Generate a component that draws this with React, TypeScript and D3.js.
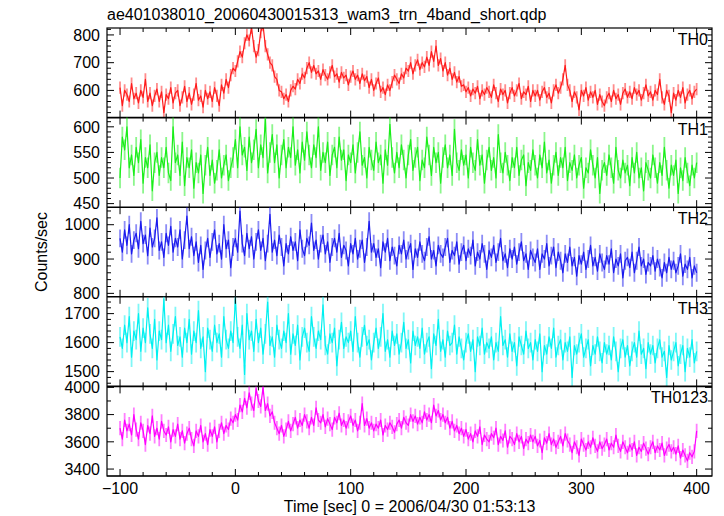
import React from "react";
import * as d3 from "d3";

const TITLE = "ae401038010_20060430015313_wam3_trn_4band_short.qdp";
const X_LABEL = "Time [sec] 0 = 2006/04/30 01:53:13";
const Y_LABEL = "Counts/sec";
const T_START = -100;
const BIN = 2;
const X_TICKS = [-100, 0, 100, 200, 300, 400];

const TH0 = [
  610, 545, 600, 585, 560, 625, 570, 590, 555, 600,
  575, 640, 560, 590, 545, 580, 605, 560, 595, 520,
  585, 570, 610, 555, 590, 600, 545, 575, 615, 560,
  590, 550, 585, 625, 565, 580, 540, 600, 570, 595,
  560, 610, 580, 545, 620, 590, 640, 610, 655, 680,
  670, 705, 740, 720, 770, 800, 780, 825, 760, 720,
  745, 810, 835, 760, 730, 700, 690, 650, 640, 600,
  595, 570, 585, 560, 600, 615, 605, 640, 625, 660,
  645, 680, 700, 665, 690, 660, 670, 640, 675, 655,
  640, 665, 690, 650, 660, 630, 665, 645, 655, 620,
  650, 670, 640, 655, 625, 660, 635, 650, 610, 640,
  600, 625, 645, 595, 610, 585, 620, 600, 630, 655,
  640, 625, 660, 645, 680, 670, 700, 660, 690, 710,
  675, 700, 685, 720, 690, 740, 705, 760, 690, 715,
  670, 700, 655, 680, 640, 665, 630, 650, 615, 620,
  595, 610, 580, 605, 590, 615, 570, 600, 585, 610,
  595, 575, 620, 590, 560, 605, 585, 600, 555, 590,
  610, 580, 600, 625, 570, 595, 585, 615, 560, 600,
  580, 600, 565, 595, 610, 575, 590, 555, 600, 620,
  590, 610, 640, 690, 620, 600, 560, 595, 575, 530,
  600, 580, 610, 565, 595, 575, 600, 550, 585, 560,
  545, 575, 590, 560, 600, 570, 585, 550, 590, 605,
  575, 595, 570, 610, 585, 600, 565, 590, 620, 580,
  595, 565, 600, 585, 640, 575, 550, 600, 580, 520,
  590, 565, 600, 575, 610, 555, 585, 600, 570, 595,
  605,
];

const TH1 = [
  500, 580, 555, 600, 520, 545, 505, 560, 530, 575,
  490, 540, 520, 565, 475, 530, 550, 505, 540, 520,
  560, 510, 495, 600, 530, 545, 505, 570, 485, 540,
  520, 555, 480, 530, 510, 545, 470, 525, 560, 505,
  535, 490, 515, 555, 500, 525, 545, 495, 520, 540,
  575, 520, 600, 545, 560, 515, 580, 530, 555, 595,
  520, 565, 540, 615, 510, 550, 585, 530, 565, 500,
  545, 575, 520, 560, 540, 600, 525, 555, 510, 570,
  535, 590, 545, 520, 565, 540, 600, 515, 550, 530,
  570, 505, 545, 560, 520, 580, 535, 555, 495, 545,
  530, 565, 510, 550, 590, 525, 540, 500, 560, 535,
  515, 570, 530, 545, 490, 555, 525, 605, 540, 510,
  550, 520, 565, 535, 500, 545, 575, 515, 540, 560,
  495, 535, 520, 580, 545, 505, 560, 530, 550, 490,
  540, 565, 520, 545, 505, 595, 530, 515, 555, 525,
  545, 500, 560, 530, 515, 575, 525, 545, 490, 535,
  560, 515, 540, 500, 585, 530, 510, 550, 525, 495,
  540, 520, 560, 505, 535, 545, 485, 530, 515, 555,
  525, 500, 545, 520, 570, 510, 535, 490, 525, 550,
  505, 540, 520, 560, 495, 530, 515, 545, 500, 525,
  540, 480, 520, 510, 555, 525, 500, 540, 470, 515,
  530, 505, 545, 520, 490, 560, 515, 500, 535, 510,
  525, 485, 540, 510, 550, 500, 520, 475, 530, 515,
  500, 545, 520, 490, 530, 505, 560, 515, 480, 525,
  505, 535, 470, 520, 495, 540, 510, 485, 525, 500,
  530,
];

const TH2 = [
  960, 920, 985, 940, 1000, 915, 955, 975, 930, 1010,
  945, 970, 910, 990, 935, 960, 1020, 925, 950, 905,
  975, 940, 995, 920, 960, 935, 985, 900, 955, 1025,
  930, 965, 910, 950, 890, 940, 870, 925, 960, 905,
  950, 985, 915, 945, 900, 1000, 930, 955, 875, 935,
  960, 920, 1040, 945, 910, 975, 930, 965, 900, 950,
  985, 925, 960, 895, 945, 1030, 920, 955, 910, 970,
  935, 880, 945, 915, 965, 925, 950, 895, 985, 930,
  910, 960, 940, 1005, 925, 955, 900, 945, 970, 915,
  950, 890, 935, 960, 920, 975, 905, 940, 925, 880,
  945, 915, 960, 900, 930, 955, 890, 935, 1010, 920,
  945, 905, 930, 875, 950, 920, 960, 895, 935, 910,
  880, 940, 915, 955, 900, 925, 945, 870, 930, 905,
  950, 915, 895, 935, 965, 900, 925, 880, 940, 915,
  905, 935, 960, 890, 925, 910, 950, 885, 920, 940,
  895, 930, 910, 955, 880, 920, 900, 945, 915, 870,
  925, 905, 940, 890, 920, 960, 895, 915, 875, 930,
  900, 935, 885, 920, 950, 895, 915, 870, 925, 905,
  890, 930, 870, 915, 900, 945, 880, 910, 935, 875,
  920, 895, 860, 915, 890, 935, 880, 905, 850, 910,
  885, 920, 870, 900, 940, 880, 905, 865, 915, 890,
  870, 910, 885, 930, 860, 900, 880, 915, 845, 895,
  905, 875, 920, 860, 895, 935, 880, 900, 855, 890,
  880, 910, 865, 900, 875, 845, 890, 860, 905, 870,
  895, 860, 880, 915, 850, 885, 870, 905, 845, 880,
  860,
];

const TH3 = [
  1620, 1580, 1660, 1600, 1690, 1550, 1640, 1610, 1700, 1570,
  1650, 1600, 1720, 1630, 1580, 1680, 1540, 1640, 1610, 1750,
  1600, 1660, 1570, 1630, 1690, 1590, 1620, 1550, 1650, 1600,
  1680, 1560, 1640, 1600, 1710, 1580, 1620, 1500, 1650, 1610,
  1570, 1660, 1600, 1630, 1550, 1690, 1610, 1580, 1640, 1600,
  1750, 1620, 1580, 1660, 1490, 1700, 1610, 1640, 1570, 1680,
  1600, 1650, 1560, 1630, 1740, 1590, 1620, 1550, 1660, 1610,
  1580, 1640, 1600, 1700, 1560, 1630, 1590, 1660, 1540, 1620,
  1650, 1600, 1570, 1690, 1620, 1580, 1640, 1610, 1730, 1590,
  1560, 1630, 1600, 1650, 1520, 1610, 1670, 1580, 1620, 1600,
  1640, 1570, 1690, 1600, 1550, 1620, 1660, 1590, 1610, 1540,
  1600, 1650, 1580, 1620, 1700, 1570, 1610, 1550, 1640, 1590,
  1630, 1560, 1600, 1670, 1580, 1610, 1530, 1640, 1590, 1620,
  1580, 1650, 1560, 1600, 1620, 1510, 1630, 1590, 1680, 1570,
  1610, 1550, 1640, 1590, 1600, 1660, 1560, 1620, 1580, 1540,
  1600, 1630, 1570, 1610, 1500, 1620, 1590, 1650, 1560, 1600,
  1580, 1620, 1540, 1600, 1570, 1690, 1590, 1610, 1550, 1630,
  1570, 1600, 1520, 1620, 1590, 1560, 1640, 1580, 1600, 1540,
  1610, 1570, 1630, 1500, 1590, 1560, 1620, 1580, 1650, 1550,
  1590, 1610, 1540, 1600, 1570, 1620, 1480, 1590, 1560, 1600,
  1630, 1550, 1580, 1610, 1520, 1590, 1560, 1620, 1570, 1530,
  1600, 1560, 1590, 1540, 1620, 1570, 1500, 1580, 1610, 1550,
  1590, 1520, 1570, 1600, 1550, 1640, 1560, 1580, 1510, 1600,
  1560, 1590, 1530, 1580, 1610, 1550, 1570, 1480, 1590, 1540,
  1570, 1600, 1520, 1560, 1590, 1500, 1580, 1550, 1610, 1530,
  1570,
];

const TH0123 = [
  3700, 3620, 3760, 3680, 3730, 3650, 3800, 3690, 3620, 3740,
  3680, 3580, 3720, 3660, 3790, 3640, 3700, 3620, 3750, 3680,
  3650, 3710, 3600, 3690, 3640, 3730, 3620, 3680, 3590, 3660,
  3700, 3620, 3570, 3680, 3640, 3720, 3600, 3660, 3580, 3690,
  3640, 3710, 3600, 3680, 3740, 3660, 3720, 3690, 3770, 3740,
  3800, 3760, 3870, 3820, 3920, 3850, 3960, 3880, 3830, 3990,
  3900, 3860, 4000, 3830, 3880, 3790, 3820, 3740, 3700, 3660,
  3720, 3640, 3690, 3750, 3680, 3730, 3780, 3700, 3760, 3720,
  3800, 3750, 3700, 3780, 3720, 3850, 3760, 3740, 3800, 3710,
  3770, 3730, 3690, 3780, 3740, 3810, 3720, 3760, 3700, 3750,
  3790, 3720, 3760, 3680, 3740, 3880, 3720, 3770, 3700, 3740,
  3680, 3730, 3700, 3760, 3650, 3720, 3690, 3740, 3710, 3670,
  3730, 3760, 3700, 3780, 3740, 3720, 3800, 3750, 3790, 3730,
  3780, 3740, 3820, 3760, 3800, 3740, 3870, 3790, 3830, 3760,
  3800, 3740, 3780, 3700, 3750, 3680, 3720, 3660, 3700, 3640,
  3690, 3620, 3660, 3600, 3680, 3640, 3710, 3580, 3650, 3620,
  3600, 3660, 3630, 3700, 3580, 3640, 3610, 3680, 3560, 3640,
  3620, 3580, 3660, 3600, 3640, 3550, 3620, 3590, 3650, 3600,
  3640, 3570, 3610, 3520, 3630, 3590, 3660, 3580, 3620, 3560,
  3600, 3640, 3570, 3660, 3610, 3580, 3520, 3600, 3560, 3500,
  3620, 3580, 3540, 3600, 3560, 3630, 3570, 3530, 3600, 3550,
  3580, 3620, 3540, 3590, 3560, 3650, 3570, 3530, 3600, 3560,
  3520, 3580, 3540, 3600, 3500, 3560, 3530, 3590, 3550, 3510,
  3560, 3600, 3520, 3570, 3540, 3590, 3500, 3550, 3580, 3530,
  3560, 3510, 3570, 3480, 3540, 3500, 3460, 3520, 3490, 3530,
  3680,
];

type Panel = {
  name: string;
  values: number[];
  color: string;
  domain: [number, number];
  major: number[];
  minorStep: number;
  err: number;
};

const PANELS: Panel[] = [
  { name: "TH0", values: TH0, color: "#ff1a1a", domain: [502, 825], major: [600, 700, 800], minorStep: 20, err: 22 },
  { name: "TH1", values: TH1, color: "#1aee1a", domain: [443, 618], major: [450, 500, 550, 600], minorStep: 10, err: 20 },
  { name: "TH2", values: TH2, color: "#1a1aee", domain: [790, 1051], major: [800, 900, 1000], minorStep: 20, err: 26 },
  { name: "TH3", values: TH3, color: "#00f0f0", domain: [1449, 1758], major: [1500, 1600, 1700], minorStep: 20, err: 34 },
  { name: "TH0123", values: TH0123, color: "#ff00ff", domain: [3349, 4007], major: [3400, 3600, 3800, 4000], minorStep: 100, err: 52 },
];

const W = 724;
const H = 516;
const LEFT = 107;
const RIGHT = 712;
const TOP = 28;
const BOTTOM = 476;
const PH = (BOTTOM - TOP) / PANELS.length;
const FONT = "'Liberation Sans', Arial, Helvetica, sans-serif";

export default function App() {
  const x = d3.scaleLinear().domain([-111.3, 413.3]).range([LEFT, RIGHT]);
  const xMinor = d3.range(-100, 401, 20);
  const fmtX = (v: number) => (v < 0 ? "\u2212" + Math.abs(v) : String(v));

  return (
    <svg width={W} height={H} style={{ display: "block", position: "absolute", left: 0, top: 0, background: "#fff" }}>
      <defs>
        {PANELS.map((p, i) => (
          <clipPath id={"clip" + i} key={i}>
            <rect x={LEFT} y={TOP + i * PH} width={RIGHT - LEFT} height={PH} />
          </clipPath>
        ))}
      </defs>
      <rect x={0} y={0} width={W} height={H} fill="#fff" />
      <text x={LEFT} y={20} fontFamily={FONT} fontSize={16} fill="#000">{TITLE}</text>
      {PANELS.map((p, i) => {
        const y0 = TOP + i * PH;
        const y1 = y0 + PH;
        const y = d3.scaleLinear().domain(p.domain).range([y1, y0]);
        const pts = p.values.map((v, k) => [T_START + k * BIN, v] as [number, number]);
        const line = d3.line<[number, number]>().x((d) => x(d[0])).y((d) => y(d[1]));
        const minor = d3.range(Math.ceil(p.domain[0] / p.minorStep) * p.minorStep, p.domain[1], p.minorStep);
        return (
          <g key={p.name}>
            <g clipPath={`url(#clip${i})`}>
              {pts.map((d, k) => (
                <line key={k} x1={x(d[0])} x2={x(d[0])} y1={y(d[1] - p.err)} y2={y(d[1] + p.err)}
                  stroke={p.color} strokeOpacity={0.5} strokeWidth={1.8} />
              ))}
              <path d={line(pts) || ""} fill="none" stroke={p.color} strokeWidth={1.2} strokeLinejoin="round" />
            </g>
            {xMinor.map((t) => {
              const len = t % 100 === 0 ? 7 : 4;
              return (
                <g key={"xt" + t}>
                  <line x1={x(t)} x2={x(t)} y1={y0} y2={y0 + len} stroke="#000" strokeWidth={1} />
                  <line x1={x(t)} x2={x(t)} y1={y1} y2={y1 - len} stroke="#000" strokeWidth={1} />
                </g>
              );
            })}
            {minor.map((v) => {
              const isMajor = p.major.includes(v);
              const len = isMajor ? 7 : 4;
              return (
                <g key={"yt" + v}>
                  <line x1={LEFT} x2={LEFT + len} y1={y(v)} y2={y(v)} stroke="#000" strokeWidth={1} />
                  <line x1={RIGHT} x2={RIGHT - len} y1={y(v)} y2={y(v)} stroke="#000" strokeWidth={1} />
                </g>
              );
            })}
            {p.major.map((v) => (
              <text key={"yl" + v} x={LEFT - 7} y={y(v)} dy="0.36em" textAnchor="end" fontFamily={FONT} fontSize={16} fill="#000">
                {v}
              </text>
            ))}
            <text x={RIGHT - 4} y={y0 + 17} textAnchor="end" fontFamily={FONT} fontSize={16} fill="#000">{p.name}</text>
            <line x1={LEFT} x2={RIGHT} y1={y1} y2={y1} stroke="#000" strokeWidth={i === PANELS.length - 1 ? 1.2 : 1.6} />
          </g>
        );
      })}
      <rect x={LEFT} y={TOP} width={RIGHT - LEFT} height={BOTTOM - TOP} fill="none" stroke="#000" strokeWidth={1.2} />
      {X_TICKS.map((t) => (
        <text key={"xl" + t} x={x(t)} y={494} textAnchor="middle" fontFamily={FONT} fontSize={16} fill="#000">
          {fmtX(t)}
        </text>
      ))}
      <text x={(LEFT + RIGHT) / 2} y={512} textAnchor="middle" fontFamily={FONT} fontSize={16} fill="#000">{X_LABEL}</text>
      <text transform={`translate(47, ${(TOP + BOTTOM) / 2}) rotate(-90)`} textAnchor="middle" fontFamily={FONT} fontSize={16} fill="#000">
        {Y_LABEL}
      </text>
    </svg>
  );
}
